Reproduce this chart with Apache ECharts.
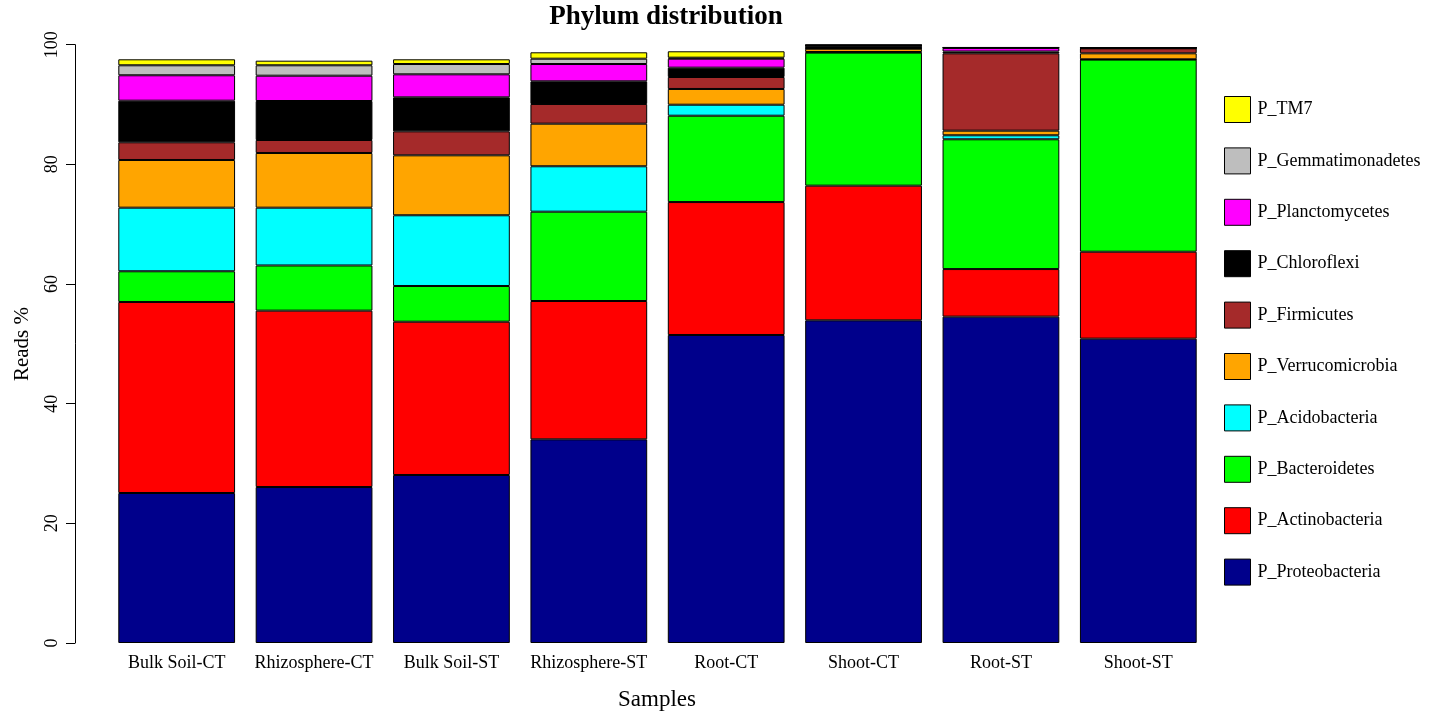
<!DOCTYPE html>
<html>
<head>
<meta charset="utf-8">
<script src="https://cdn.jsdelivr.net/npm/echarts@6/dist/echarts.min.js"></script>
<style>
html,body{margin:0;padding:0;background:#fff;}
#chart{width:1450px;height:721px;}
</style>
</head>
<body>
<div id="chart"></div>
<script>
const samples = ['Bulk Soil-CT','Rhizosphere-CT','Bulk Soil-ST','Rhizosphere-ST','Root-CT','Shoot-CT','Root-ST','Shoot-ST'];
const yTicks = [0, 20, 40, 60, 80, 100];

const proteobacteria   = [25.07, 26.07, 28.08, 34.04, 51.48, 53.93, 54.55, 50.87];
const actinobacteria   = [31.93, 29.48, 25.62, 23.12, 22.22, 22.51, 7.95, 14.53];
const bacteroidetes    = [5.13, 7.55, 5.97, 14.93, 14.43, 22.24, 21.69, 32.11];
const acidobacteria    = [10.63, 9.66, 11.82, 7.59, 1.84, 0.10, 0.67, 0.05];
const verrucomicrobia  = [7.97, 9.14, 10.02, 7.12, 2.63, 0.55, 0.77, 1.00];
const firmicutes       = [2.96, 2.17, 4.01, 3.29, 2.00, 0.05, 12.93, 0.84];
const chloroflexi      = [6.95, 6.52, 5.68, 3.79, 1.56, 0.45, 0.30, 0.05];
const planctomycetes   = [4.25, 4.23, 3.85, 2.89, 1.50, 0.05, 0.60, 0.02];
const gemmatimonadetes = [1.67, 1.74, 1.72, 0.89, 0.17, 0.05, 0.05, 0.02];
const tm7              = [1.00, 0.77, 0.79, 1.07, 1.07, 0.05, 0.05, 0.02];

const phyla = [
  {name:'P_Proteobacteria',   data:proteobacteria,   color:'#00008B'},
  {name:'P_Actinobacteria',   data:actinobacteria,   color:'#FF0000'},
  {name:'P_Bacteroidetes',    data:bacteroidetes,    color:'#00FF00'},
  {name:'P_Acidobacteria',    data:acidobacteria,    color:'#00FFFF'},
  {name:'P_Verrucomicrobia',  data:verrucomicrobia,  color:'#FFA500'},
  {name:'P_Firmicutes',       data:firmicutes,       color:'#A52A2A'},
  {name:'P_Chloroflexi',      data:chloroflexi,      color:'#000000'},
  {name:'P_Planctomycetes',   data:planctomycetes,   color:'#FF00FF'},
  {name:'P_Gemmatimonadetes', data:gemmatimonadetes, color:'#BEBEBE'},
  {name:'P_TM7',              data:tm7,              color:'#FFFF00'}
];

const FONT = '"Liberation Serif", "DejaVu Serif", serif';
const chart = echarts.init(document.getElementById('chart'), null, {renderer:'canvas'});

const option = {
  backgroundColor:'#ffffff',
  animation:false,
  textStyle:{fontFamily:FONT, color:'#000'},
  grid:{left:108, right:243, top:44.7, bottom:78, containLabel:false},
  legend:{
    orient:'vertical',
    left:1219,
    top:91,
    itemWidth:26,
    itemHeight:26,
    itemGap:24.4,
    icon:'rect',
    selectedMode:false,
    data:phyla.map(p=>p.name).reverse(),
    itemStyle:{borderColor:'#000', borderWidth:1},
    textStyle:{fontFamily:FONT, fontSize:18, color:'#000', padding:[0,0,0,2]}
  },
  xAxis:{
    type:'category',
    data:samples,
    axisLine:{show:false},
    axisTick:{show:false},
    axisLabel:{fontFamily:FONT, fontSize:18, color:'#000', margin:11, interval:0}
  },
  yAxis:{
    type:'value',
    min:yTicks[0],
    max:yTicks[yTicks.length-1],
    interval:20,
    offset:33,
    splitLine:{show:false},
    axisLine:{show:true, lineStyle:{color:'#000', width:1}},
    axisTick:{show:true, length:9, lineStyle:{color:'#000', width:1}},
    axisLabel:{fontFamily:FONT, fontSize:18, color:'#000', rotate:90, margin:14}
  },
  graphic:[
    {type:'text', x:666, y:17, style:{text:'Phylum distribution', font:'bold 27px '+FONT, fill:'#000', textAlign:'center', textVerticalAlign:'middle'}},
    {type:'text', x:657, y:700, style:{text:'Samples', font:'23px '+FONT, fill:'#000', textAlign:'center', textVerticalAlign:'middle'}},
    {type:'text', x:22, y:344, rotation:Math.PI/2, style:{text:'Reads %', font:'21px '+FONT, fill:'#000', textAlign:'center', textVerticalAlign:'middle'}}
  ],
  series:phyla.map(p=>({
    name:p.name,
    type:'bar',
    stack:'total',
    data:p.data,
    barWidth:'85%',
    itemStyle:{color:p.color, borderColor:'#000', borderWidth:1},
    emphasis:{disabled:true}
  }))
};
chart.setOption(option);
</script>
</body>
</html>
